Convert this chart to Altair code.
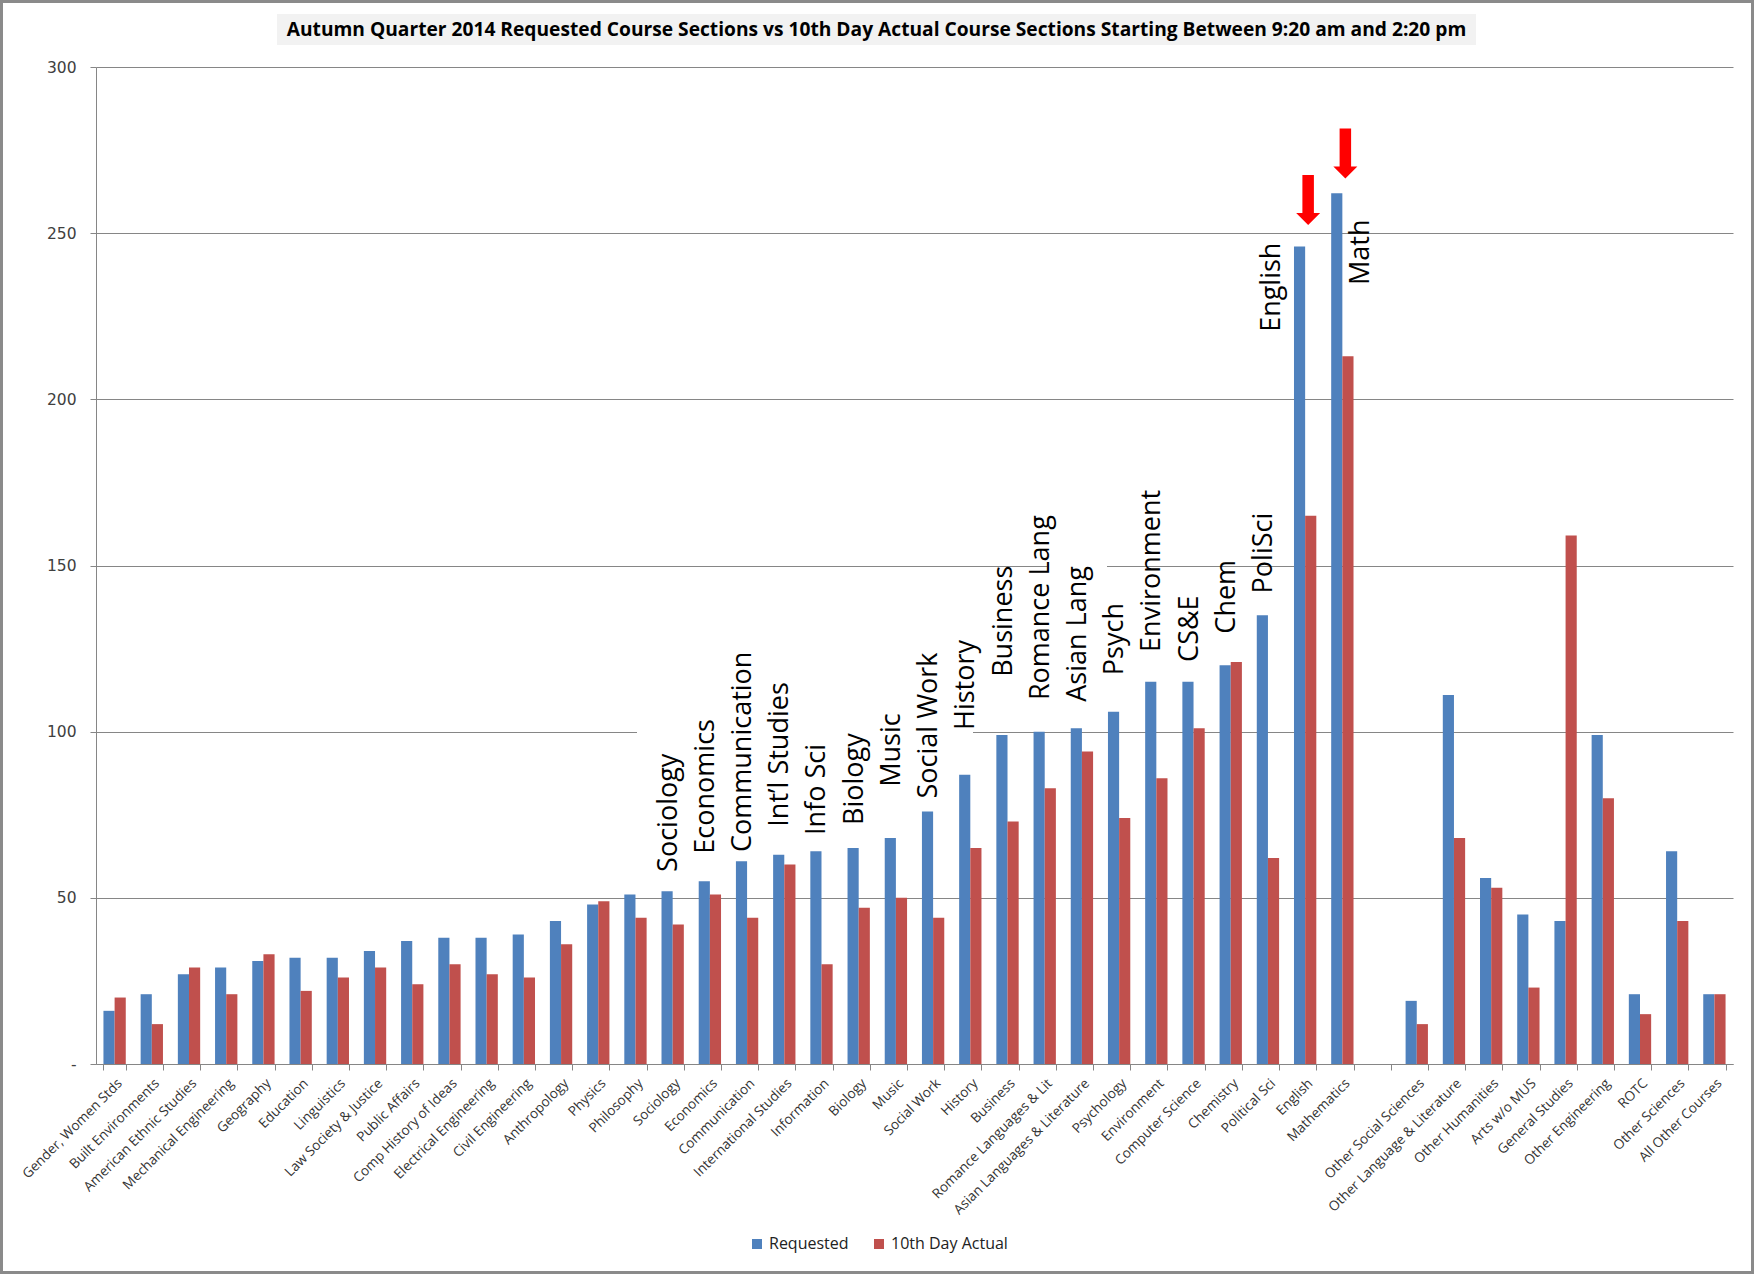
import altair as alt
import pandas as pd

categories = [
    "Gender, Women Stds", "Built Environments", "American Ethnic Studies",
    "Mechanical Engineering", "Geography", "Education", "Linguistics",
    "Law Society & Justice", "Public Affairs", "Comp History of Ideas",
    "Electrical Engineering", "Civil Engineering", "Anthropology", "Physics",
    "Philosophy", "Sociology", "Economics", "Communication",
    "International Studies", "Information", "Biology", "Music", "Social Work",
    "History", "Business", "Romance Languages & Lit",
    "Asian Languages & Literature", "Psychology", "Environment",
    "Computer Science", "Chemistry", "Political Sci", "English", "Mathematics",
    " ", "Other Social Sciences", "Other Language & Literature",
    "Other Humanities", "Arts w/o MUS", "General Studies", "Other Engineering",
    "ROTC", "Other Sciences", "All Other Courses",
]
requested = [16, 21, 27, 29, 31, 32, 32, 34, 37, 38, 38, 39, 43, 48, 51, 52, 55,
             61, 63, 64, 65, 68, 76, 87, 99, 100, 101, 106, 115, 115, 120, 135,
             246, 262, None, 19, 111, 56, 45, 43, 99, 21, 64, 21]
actual = [20, 12, 29, 21, 33, 22, 26, 29, 24, 30, 27, 26, 36, 49, 44, 42, 51,
          44, 60, 30, 47, 50, 44, 65, 73, 83, 94, 74, 86, 101, 121, 62,
          165, 213, None, 12, 68, 53, 23, 159, 80, 15, 43, 21]
series_names = ["Requested", "10th Day Actual"]
series_colors = ["#4F81BD", "#C0504D"]

# rotated call-out labels (category, text, value where the text starts)
label_cats = ["Sociology", "Economics", "Communication", "International Studies",
              "Information", "Biology", "Music", "Social Work", "History",
              "Business", "Romance Languages & Lit",
              "Asian Languages & Literature", "Psychology", "Environment",
              "Computer Science", "Chemistry", "Political Sci"]
label_texts = ["Sociology", "Economics", "Communication", "Int\u2019l Studies",
               "Info Sci", "Biology", "Music", "Social Work", "History",
               "Business", "Romance Lang", "Asian Lang", "Psych", "Environment",
               "CS&E", "Chem", "PoliSci"]
label_base = [57.8, 63.3, 63.8, 71.4, 68.9, 71.9, 83.4, 79.9, 100.5, 116.5,
              109.5, 109, 117, 124, 121, 129.5, 141.6]
english_label = ("English", "English", 220.3)
math_label = ("Mathematics", "Math", 234.4)
arrow_cats = ["English", "Mathematics"]
arrow_vals = [260, 274]

title_text = ("Autumn Quarter 2014 Requested Course Sections vs 10th Day Actual "
              "Course Sections Starting Between 9:20 am and 2:20 pm")

W, H = 1637, 997
PAD_L, PAD_T = 96, 67
GRAY = "#868686"
FONT = "Open Sans"
dummy = pd.DataFrame({"k": [0]})

rows = []
for c, r, a in zip(categories, requested, actual):
    if r is not None:
        rows.append({"category": c, "series": series_names[0], "value": r})
    if a is not None:
        rows.append({"category": c, "series": series_names[1], "value": a})
df = pd.DataFrame(rows)

xscale = alt.Scale(domain=categories, paddingInner=0.4, paddingOuter=0.2)
yscale = alt.Scale(domain=[0, 300])

x_axis = alt.Axis(
    title=None, labelAngle=-45, tickBand="extent", labelOverlap=False,
    labelLimit=400, labelFont=FONT, labelFontSize=13.6, labelColor="#333333",
    domainColor=GRAY, tickColor=GRAY, tickSize=6, labelPadding=6, grid=False,
)
y_axis = alt.Axis(
    title=None, values=[0, 50, 100, 150, 200, 250, 300],
    labelExpr="datum.value == 0 ? '-\u00a0\u00a0\u00a0' : datum.label",
    grid=True, gridColor=GRAY, gridWidth=1, domainColor=GRAY, tickColor=GRAY,
    tickSize=6, labelPadding=14, labelFont="DejaVu Sans", labelFontSize=15.5,
    labelColor="#404040",
)


def pixel_rect(x, x2, y, y2, **mark):
    return alt.Chart(dummy).mark_rect(**mark).encode(
        x=alt.value(x), x2=alt.value(x2), y=alt.value(y), y2=alt.value(y2))


# white fills of the call-out text boxes that hide parts of the gridlines
box1 = pixel_rect(541, 877, 660, 670, color="white")
box2 = pixel_rect(951, 1011, 494, 504, color="white")

bars = alt.Chart(df).mark_bar().encode(
    x=alt.X("category:N", scale=xscale, axis=x_axis, sort=categories),
    xOffset=alt.XOffset("series:N", sort=series_names,
                        scale=alt.Scale(domain=series_names, paddingInner=0,
                                        paddingOuter=0)),
    y=alt.Y("value:Q", scale=yscale, axis=y_axis),
    color=alt.Color(
        "series:N",
        scale=alt.Scale(domain=series_names, range=series_colors),
        legend=alt.Legend(
            title=None, orient="none", direction="horizontal",
            legendX=653, legendY=1169, symbolType="square", symbolSize=100,
            symbolStrokeWidth=0, labelFont=FONT, labelFontSize=16,
            labelColor="#222222", labelOffset=4, columnPadding=22, padding=0,
        ),
    ),
)


def text_layer(cats, texts, bases, shift):
    d = pd.DataFrame({"category": cats, "text": texts, "value": bases})
    return alt.Chart(d).mark_text(
        angle=270, align="left", baseline="middle", dy=shift, font=FONT,
        fontSize=27, color="black",
    ).encode(
        x=alt.X("category:N", scale=xscale, sort=categories),
        y=alt.Y("value:Q", scale=yscale),
        text="text:N",
    )


labels = text_layer(label_cats, label_texts, label_base, -4)
eng = text_layer([english_label[0]], [english_label[1]], [english_label[2]], -33)
mth = text_layer([math_label[0]], [math_label[1]], [math_label[2]], 19)

arrow_path = ("M-0.23,-1 L0.23,-1 L0.23,0.52 L0.48,0.52 L0,1 "
              "L-0.48,0.52 L-0.23,0.52 Z")
arrows = alt.Chart(pd.DataFrame({"category": arrow_cats,
                                 "value": arrow_vals})).mark_point(
    shape=arrow_path, size=2500, filled=True, color="#FF0000", opacity=1,
    strokeWidth=0, xOffset=3,
).encode(
    x=alt.X("category:N", scale=xscale, sort=categories),
    y=alt.Y("value:Q", scale=yscale),
)

title_bg = pixel_rect(181, 1380, -53, -22, color="#F2F2F2")

title = alt.Chart(pd.DataFrame({"t": [title_text]})).mark_text(
    align="center", baseline="middle", font=FONT, fontSize=19.2,
    fontWeight="bold", color="black",
).encode(x=alt.value(780.5), y=alt.value(-37.5), text="t:N")

frame = pixel_rect(-PAD_L + 1.5, 1754 - PAD_L - 1.5, -PAD_T + 1.5,
                   1274 - PAD_T - 1.5, fillOpacity=0, stroke="#8A8A8A",
                   strokeWidth=3)

chart = alt.layer(
    title_bg, box1, box2, bars, labels, eng, mth, arrows, title, frame
).properties(
    width=W, height=H,
    autosize=alt.AutoSizeParams(type="none"),
    padding={"left": PAD_L, "top": PAD_T, "right": 1754 - PAD_L - W,
             "bottom": 1274 - PAD_T - H},
    background="white",
).configure_view(stroke=None)

chart.save("out.html", embed_options={"renderer": "svg", "actions": False})
